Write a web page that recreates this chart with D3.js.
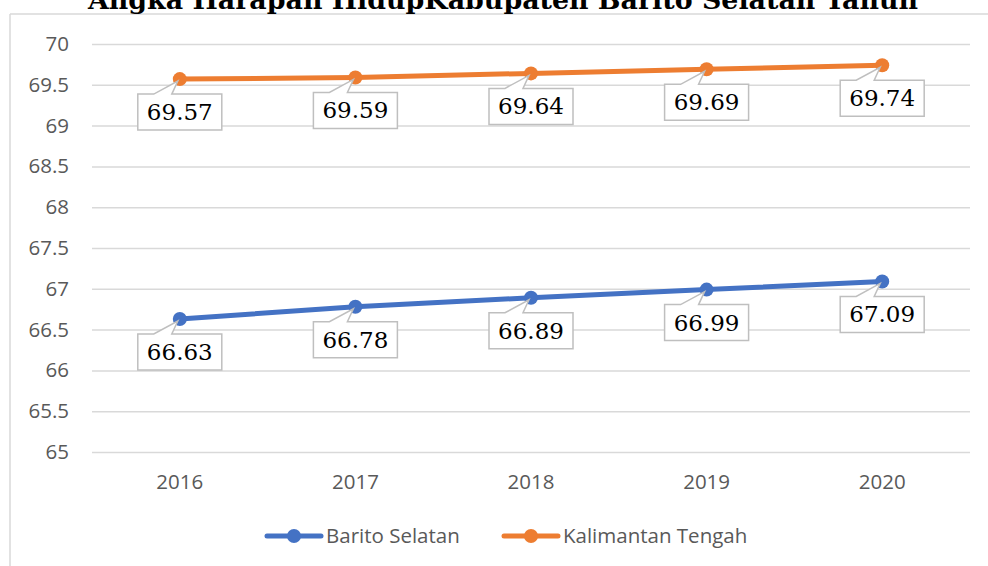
<!DOCTYPE html>
<html>
<head>
<meta charset="utf-8">
<script src="https://cdn.jsdelivr.net/npm/d3@7"></script>
<style>
  html, body { margin: 0; padding: 0; background: #fff; }
  svg { display: block; }
</style>
</head>
<body>
<svg id="chart" width="988" height="566"></svg>
<script>
// Life expectancy, 2016–2020
const years = ["2016", "2017", "2018", "2019", "2020"];
const baritoSelatan = [66.63, 66.78, 66.89, 66.99, 67.09];
const kalimantanTengah = [69.57, 69.59, 69.64, 69.69, 69.74];
const yTicks = [65, 65.5, 66, 66.5, 67, 67.5, 68, 68.5, 69, 69.5, 70];
const seriesNames = ["Barito Selatan", "Kalimantan Tengah"];
const seriesColors = ["#4472C4", "#ED7D31"];

const series = [
  { name: seriesNames[0], color: seriesColors[0], values: baritoSelatan },
  { name: seriesNames[1], color: seriesColors[1], values: kalimantanTengah }
];

const svg = d3.select("#chart");
const W = 988, H = 566;
const plot = { left: 92, right: 970, top: 44, bottom: 452 };

// Chart frame (top and left edges visible)
svg.append("line").attr("x1", 10).attr("x2", W).attr("y1", 14).attr("y2", 14)
  .attr("stroke", "#d9d9d9").attr("stroke-width", 1.5);
svg.append("line").attr("x1", 10).attr("x2", 10).attr("y1", 14).attr("y2", H)
  .attr("stroke", "#d9d9d9").attr("stroke-width", 1.5);

// Title
svg.append("text")
  .attr("x", 503).attr("y", 9)
  .attr("text-anchor", "middle")
  .attr("font-family", "'DejaVu Serif', serif")
  .attr("font-weight", "bold")
  .attr("font-size", 26)
  .attr("textLength", 830)
  .attr("lengthAdjust", "spacingAndGlyphs")
  .attr("fill", "#000")
  .text("Angka Harapan HidupKabupaten Barito Selatan Tahun");

const x = d3.scaleBand().domain(years).range([plot.left, plot.right]);
const y = d3.scaleLinear().domain([65, 70]).range([plot.bottom, plot.top]);

// Horizontal gridlines + y labels
const yAxis = d3.axisLeft(y).tickValues(yTicks).tickSize(-(plot.right - plot.left))
  .tickPadding(23).tickFormat(d => String(d));
const gy = svg.append("g").attr("transform", `translate(${plot.left},0)`).call(yAxis);
gy.select(".domain").remove();
gy.selectAll(".tick line").attr("stroke", "#d9d9d9").attr("stroke-width", 1.5);
gy.selectAll(".tick text")
  .attr("font-family", "'Open Sans', sans-serif")
  .attr("font-size", 20.5)
  .attr("fill", "#595959");

// X labels
const xAxis = d3.axisBottom(x).tickSize(0).tickPadding(22);
const gx = svg.append("g").attr("transform", `translate(0,${plot.bottom})`).call(xAxis);
gx.select(".domain").remove();
gx.selectAll(".tick text")
  .attr("font-family", "'Open Sans', sans-serif")
  .attr("font-size", 20.5)
  .attr("fill", "#595959");

const cx = (i) => x(years[i]) + x.bandwidth() / 2;
const line = d3.line().x((d, i) => cx(i)).y(d => y(d));

series.forEach(s => {
  const g = svg.append("g");
  g.append("path")
    .datum(s.values)
    .attr("d", line)
    .attr("fill", "none")
    .attr("stroke", s.color)
    .attr("stroke-width", 5)
    .attr("stroke-linecap", "round")
    .attr("stroke-linejoin", "round");
  g.selectAll("circle").data(s.values).join("circle")
    .attr("cx", (d, i) => cx(i))
    .attr("cy", d => y(d))
    .attr("r", 7)
    .attr("fill", s.color);
});

// Callout data labels
const boxW = 84, boxH = 36, boxGap = 15;
series.forEach(s => {
  const labels = svg.append("g");
  s.values.forEach((v, i) => {
    const px = cx(i), py = y(v);
    const bx = px - boxW / 2, by = py + boxGap;
    const wl = px - 26, wr = px - 8;
    const tipX = px - 2, tipY = py + 2;
    const d = `M${bx},${by} L${wl},${by} L${tipX},${tipY} L${wr},${by} L${bx + boxW},${by}` +
              ` L${bx + boxW},${by + boxH} L${bx},${by + boxH} Z`;
    labels.append("path")
      .attr("d", d)
      .attr("fill", "#fff")
      .attr("stroke", "#bfbfbf")
      .attr("stroke-width", 1.5)
      .attr("stroke-linejoin", "miter");
    labels.append("text")
      .attr("x", px)
      .attr("y", by + boxH / 2 + 8)
      .attr("text-anchor", "middle")
      .attr("font-family", "'DejaVu Serif', serif")
      .attr("font-size", 23)
      .attr("fill", "#000")
      .text(v.toFixed(2));
  });
});

// Legend
const legendItems = [
  { x0: 267, name: series[0].name, color: series[0].color },
  { x0: 504, name: series[1].name, color: series[1].color }
];
const ly = 536;
legendItems.forEach(it => {
  const g = svg.append("g");
  g.append("line").attr("x1", it.x0).attr("x2", it.x0 + 54).attr("y1", ly).attr("y2", ly)
    .attr("stroke", it.color).attr("stroke-width", 5).attr("stroke-linecap", "round");
  g.append("circle").attr("cx", it.x0 + 27).attr("cy", ly).attr("r", 7).attr("fill", it.color);
  g.append("text").attr("x", it.x0 + 59).attr("y", ly + 7)
    .attr("font-family", "'Open Sans', sans-serif")
    .attr("font-size", 20.5)
    .attr("fill", "#595959")
    .text(it.name);
});
</script>
</body>
</html>
